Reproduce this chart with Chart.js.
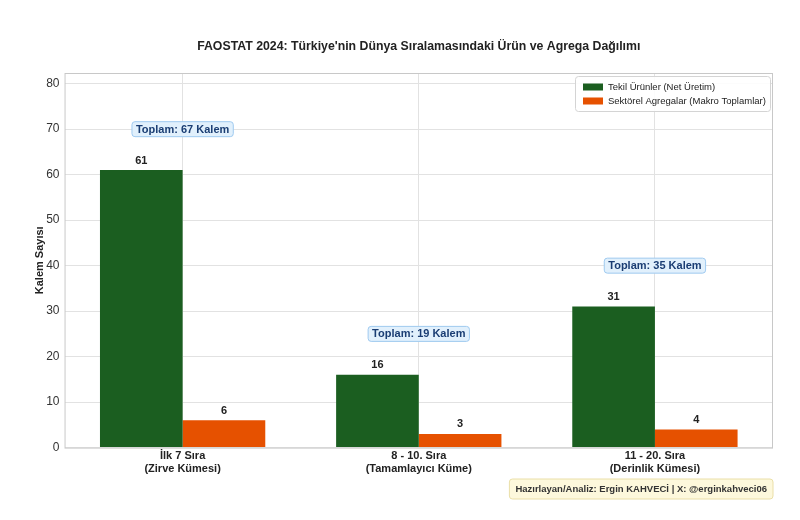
<!DOCTYPE html>
<html lang="tr">
<head>
<meta charset="UTF-8">
<title>FAOSTAT 2024</title>
<script src="https://cdn.jsdelivr.net/npm/chart.js"></script>
<style>
  body { margin: 0; background: #fff; }
  #wrap { width: 800px; height: 520px; }
</style>
</head>
<body>
<div id="wrap"><canvas id="grafik"></canvas></div>
<script>
  const kategoriler = [['İlk 7 Sıra', '(Zirve Kümesi)'], ['8 - 10. Sıra', '(Tamamlayıcı Küme)'], ['11 - 20. Sıra', '(Derinlik Kümesi)']];
  const tekilUrunler = [61, 16, 31];
  const agregalar = [6, 3, 4];
  const toplamlar = [67, 19, 35];
  const yTicks = [0, 10, 20, 30, 40, 50, 60, 70, 80];

  const FONT = "'Liberation Sans', Arial, sans-serif";
  const BASLIK = "FAOSTAT 2024: Türkiye'nin Dünya Sıralamasındaki Ürün ve Agrega Dağılımı";

  // baslik, bar etiketleri, toplam kutulari, legend, cerceve, imza
  const ekstralar = {
    id: 'ekstralar',
    afterDatasetsDraw(chart) {
      const ctx = chart.ctx;
      const ca = chart.chartArea;
      const y = chart.scales.y;
      const x = chart.scales.x;

      ctx.save();
      // baslik (cizim alanina gore ortali)
      ctx.font = 'bold 12.3px ' + FONT;
      ctx.fillStyle = '#222';
      ctx.textAlign = 'center';
      ctx.textBaseline = 'middle';
      ctx.fillText(BASLIK, (ca.left + ca.right) / 2, 47);

      // cerceve
      ctx.strokeStyle = '#c8c8c8';
      ctx.lineWidth = 1;
      ctx.strokeRect(ca.left + 0.5, ca.top + 0.5, ca.right - ca.left - 1, ca.bottom - ca.top);

      // deger etiketleri
      ctx.font = 'bold 11px ' + FONT;
      ctx.fillStyle = '#222';
      ctx.textBaseline = 'bottom';
      chart.data.datasets.forEach((ds, i) => {
        chart.getDatasetMeta(i).data.forEach((bar, j) => {
          ctx.fillText(ds.data[j], bar.x, bar.y - 4);
        });
      });

      // toplam kutulari
      ctx.font = 'bold 11px ' + FONT;
      toplamlar.forEach((t, j) => {
        const txt = 'Toplam: ' + t + ' Kalem';
        const cx = x.getPixelForValue(j);
        const cy = y.getPixelForValue(tekilUrunler[j] + 9);
        const w = ctx.measureText(txt).width + 8;
        const h = 15;
        ctx.beginPath();
        ctx.roundRect(cx - w / 2, cy - h / 2, w, h, 3);
        ctx.fillStyle = '#e1f0fc';
        ctx.fill();
        ctx.strokeStyle = '#9fcaf0';
        ctx.lineWidth = 1;
        ctx.stroke();
        ctx.fillStyle = '#1a3d73';
        ctx.textBaseline = 'middle';
        ctx.fillText(txt, cx, cy + 0.5);
      });

      // legend
      const lx = ca.right - 198, ly = ca.top + 3, lw = 195, lh = 35;
      ctx.fillStyle = 'rgba(255,255,255,0.9)';
      ctx.strokeStyle = '#d4d4d4';
      ctx.beginPath();
      ctx.roundRect(lx + 0.5, ly + 0.5, lw, lh, 3);
      ctx.fill();
      ctx.stroke();
      ctx.font = '9.5px ' + FONT;
      ctx.textAlign = 'left';
      ctx.textBaseline = 'middle';
      chart.data.datasets.forEach((ds, i) => {
        const ry = ly + 11 + i * 14;
        ctx.fillStyle = ds.backgroundColor;
        ctx.fillRect(lx + 8, ry - 3.5, 20, 7);
        ctx.fillStyle = '#222';
        ctx.fillText(ds.label, lx + 33, ry);
      });

      // imza
      const imza = 'Hazırlayan/Analiz: Ergin KAHVECİ | X: @erginkahveci06';
      ctx.font = 'bold 9.5px ' + FONT;
      const iw = ctx.measureText(imza).width + 12;
      const ix = ca.right - iw, iy = 479;
      ctx.beginPath();
      ctx.roundRect(ix, iy, iw, 20, 3);
      ctx.fillStyle = '#fdf8dc';
      ctx.fill();
      ctx.strokeStyle = '#eadfa8';
      ctx.stroke();
      ctx.fillStyle = '#333';
      ctx.fillText(imza, ix + 6, iy + 10.5);
      ctx.restore();
    }
  };

  new Chart(document.getElementById('grafik'), {
    type: 'bar',
    data: {
      labels: kategoriler,
      datasets: [
        { label: 'Tekil Ürünler (Net Üretim)', data: tekilUrunler, backgroundColor: '#1b5e20' },
        { label: 'Sektörel Agregalar (Makro Toplamlar)', data: agregalar, backgroundColor: '#e65100' }
      ]
    },
    options: {
      responsive: true,
      maintainAspectRatio: false,
      animation: false,
      layout: { padding: { left: 33, right: 27, top: 73, bottom: 42 } },
      datasets: { bar: { categoryPercentage: 0.7, barPercentage: 1.0 } },
      plugins: {
        legend: { display: false },
        tooltip: { enabled: false },
        title: { display: false }
      },
      scales: {
        x: {
          grid: { offset: false, color: '#e2e2e2', drawTicks: false },
          border: { display: false },
          ticks: { color: '#222', font: { family: FONT, size: 11, weight: 'bold' }, padding: 2 }
        },
        y: {
          min: 0,
          max: 82.35,
          afterBuildTicks(s) { s.ticks = yTicks.map(v => ({ value: v })); },
          grid: { color: '#e2e2e2', drawTicks: false },
          border: { display: false },
          ticks: { color: '#333', font: { family: FONT, size: 12 }, padding: 5 },
          title: {
            display: true,
            text: 'Kalem Sayısı',
            color: '#222',
            font: { family: FONT, size: 11, weight: 'bold' },
            padding: { top: 0, bottom: -5 }
          }
        }
      }
    },
    plugins: [ekstralar]
  });
</script>
</body>
</html>
